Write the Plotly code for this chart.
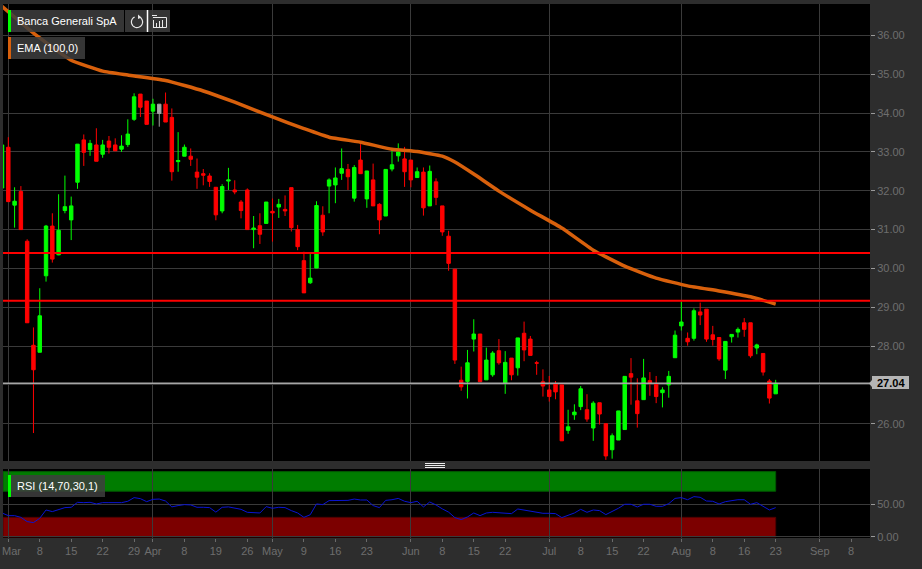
import math
import plotly.graph_objects as go

W, H = 922, 569
PL, PR, PT, PB = 3, 870, 4, 538

positions = list(range(-1, 123))
opens = [32.07, 33.12, 31.63, 31.98, 30.70, 28.02, 27.84, 29.81, 31.09, 30.35, 31.49, 31.25, 32.22, 33.31, 33.06, 33.18,
         32.94, 33.28, 33.18, 33.07, 33.19, 33.84, 34.49, 34.31, 34.05, 34.23, 34.23, 33.89, 32.75, 32.89, 32.89, 32.48,
         32.44, 32.38, 32.09, 31.48, 32.25, 32.02, 31.71, 32.02, 31.00, 31.10, 31.16, 31.47, 31.58, 31.52, 32.08, 31.00,
         30.20, 29.63, 30.01, 31.37, 32.12, 32.15, 32.45, 32.55, 31.81, 32.79, 31.79, 32.28, 31.65, 31.35, 32.56, 32.90,
         32.82, 32.79, 32.34, 32.48, 31.61, 32.23, 31.61, 30.83, 29.98, 27.12, 27.09, 28.18, 28.31, 27.13, 27.26, 27.88,
         27.04, 27.69, 27.44, 28.33, 28.18, 27.57, 27.08, 26.87, 27.03, 27.00, 25.83, 26.23, 26.44, 26.36, 25.89, 26.54,
         26.00, 25.33, 25.58, 25.85, 27.29, 26.59, 26.62, 27.11, 27.02, 26.80, 27.00, 27.70, 28.52, 28.20, 28.20, 28.88,
         28.95, 28.29, 28.22, 27.38, 28.24, 28.36, 28.60, 28.60, 27.95, 27.81, 27.10, 26.77]
closes = [33.18, 31.72, 31.73, 31.00, 28.60, 27.39, 28.78, 31.09, 30.24, 30.98, 31.59, 31.61, 33.20, 32.99, 33.22, 32.76,
          33.18, 33.12, 33.03, 33.15, 33.46, 34.42, 34.15, 33.71, 34.23, 33.99, 33.77, 32.49, 32.78, 33.12, 32.81, 32.35,
          32.40, 32.24, 31.38, 32.11, 32.28, 31.97, 31.49, 31.00, 31.04, 30.88, 31.71, 31.43, 31.65, 31.48, 31.05, 30.56,
          29.37, 29.75, 31.62, 30.94, 32.28, 32.33, 32.57, 32.36, 32.60, 32.44, 32.51, 31.61, 31.25, 32.55, 32.67, 33.00,
          32.49, 32.28, 32.49, 31.56, 32.50, 31.83, 30.94, 30.13, 27.64, 26.95, 27.57, 28.31, 27.08, 27.64, 27.82, 27.57,
          27.58, 27.26, 28.21, 27.90, 27.76, 27.56, 26.97, 26.70, 26.82, 25.56, 25.92, 26.30, 26.90, 26.12, 26.53, 26.25,
          25.17, 25.69, 26.33, 27.22, 27.20, 26.26, 27.18, 27.04, 26.70, 26.87, 27.22, 28.28, 28.62, 28.11, 28.91, 28.80,
          28.18, 28.17, 27.67, 28.12, 28.30, 28.43, 28.43, 27.75, 28.03, 27.33, 26.66, 27.04]
highs = [33.18, 33.38, 32.09, 32.12, 30.75, 28.48, 29.49, 31.12, 31.42, 31.91, 32.39, 31.85, 33.20, 33.45, 33.31, 33.61,
         33.31, 33.41, 33.35, 33.43, 33.84, 34.51, 34.49, 34.31, 34.37, 34.23, 34.53, 34.12, 33.51, 33.19, 33.09, 32.83,
         32.56, 32.45, 32.09, 32.17, 32.59, 32.27, 31.76, 32.06, 31.35, 31.42, 31.71, 31.80, 31.79, 31.88, 32.08, 31.12,
         30.43, 30.37, 31.73, 31.60, 32.32, 32.60, 33.09, 32.69, 32.66, 33.20, 32.51, 32.70, 31.68, 32.55, 33.05, 33.22,
         33.13, 32.79, 32.60, 32.60, 32.65, 32.32, 31.61, 30.97, 29.98, 27.47, 27.90, 28.69, 28.31, 27.96, 27.87, 28.18,
         27.87, 27.69, 28.21, 28.63, 28.26, 27.62, 27.40, 27.23, 27.10, 27.00, 26.36, 26.50, 26.97, 26.76, 26.58, 26.54,
         26.00, 25.75, 26.33, 27.22, 27.69, 27.17, 27.67, 27.33, 27.23, 26.94, 27.36, 28.40, 29.14, 28.35, 28.97, 29.12,
         28.95, 28.52, 28.22, 28.12, 28.30, 28.48, 28.72, 28.60, 28.06, 27.81, 27.15, 27.13]
lows = [32.07, 31.72, 31.05, 30.99, 28.60, 25.76, 27.84, 29.66, 30.15, 30.34, 31.42, 30.73, 32.05, 32.64, 32.90, 32.76,
        32.85, 32.96, 33.03, 33.00, 33.13, 33.80, 33.90, 33.71, 33.68, 33.65, 33.77, 32.26, 32.49, 32.89, 32.64, 32.05,
        32.14, 32.10, 31.24, 31.42, 32.02, 31.91, 31.29, 31.00, 30.52, 30.63, 31.16, 30.69, 31.30, 31.35, 30.95, 30.47,
        29.37, 29.60, 30.01, 30.84, 31.42, 31.68, 32.28, 32.02, 31.72, 32.44, 31.56, 31.61, 30.88, 31.35, 32.50, 32.75,
        32.10, 32.09, 32.34, 31.36, 31.61, 31.63, 30.84, 29.94, 27.54, 26.85, 26.65, 27.86, 27.07, 27.13, 27.21, 27.52,
        26.77, 27.12, 27.24, 27.61, 27.76, 27.26, 26.70, 26.57, 26.63, 25.56, 25.74, 26.10, 26.35, 26.05, 25.56, 25.98,
        25.07, 25.10, 25.58, 25.85, 26.49, 25.90, 26.62, 26.72, 26.53, 26.42, 26.67, 27.70, 28.40, 28.01, 28.14, 28.54,
        28.11, 28.01, 27.62, 27.15, 28.09, 28.22, 28.24, 27.70, 27.79, 27.24, 26.52, 26.77]
unchanged_positions = [24]

ema_positions = [-1, 4, 10, 15, 19, 25, 31, 36, 42, 47, 51, 56, 61, 65, 69, 71, 74, 78, 83, 88, 93, 98, 103, 108, 113, 118, 122]
ema_values = [36.75, 36.06, 35.36, 35.08, 34.98, 34.84, 34.57, 34.28, 33.90, 33.60, 33.38, 33.25, 33.07, 33.01, 32.89,
              32.74, 32.43, 31.99, 31.50, 31.04, 30.47, 30.06, 29.75, 29.55, 29.42, 29.27, 29.08]

rsi_values = [36.7, 32.6, 32.6, 30.0, 23.5, 22.0, 28.6, 41.3, 38.8, 42.3, 44.9, 45.4, 53.0, 52.5, 53.0, 50.5, 52.5, 52.5,
              52.0, 52.5, 54.6, 60.2, 58.6, 54.0, 57.6, 58.0, 55.0, 46.0, 48.0, 49.5, 49.0, 45.4, 45.4, 44.9, 38.0, 45.4,
              46.0, 44.4, 42.3, 37.7, 37.7, 36.7, 46.4, 43.9, 45.4, 44.9, 40.3, 36.7, 30.0, 34.0, 50.5, 49.5, 55.6, 56.0,
              56.6, 56.0, 58.0, 56.6, 56.6, 48.0, 44.9, 56.0, 57.0, 59.0, 54.6, 52.5, 54.6, 46.0, 53.5, 49.0, 43.0, 38.0,
              29.6, 26.5, 30.6, 36.7, 32.6, 36.7, 37.7, 36.7, 36.7, 35.7, 42.8, 41.3, 40.3, 38.8, 36.2, 36.2, 35.7, 29.6,
              33.2, 36.7, 42.3, 37.7, 41.3, 40.3, 34.2, 38.8, 43.9, 50.0, 50.0, 45.9, 50.0, 50.0, 46.9, 46.9, 51.0, 59.0,
              60.2, 57.0, 61.7, 60.7, 55.0, 54.6, 50.5, 54.0, 56.0, 57.0, 57.0, 50.0, 52.5, 46.4, 41.3, 44.9]

resistance_levels = [30.40, 29.17]
last_price = 27.04
last_label = "27.04"
rsi_upper, rsi_lower, rsi_max = 70, 30, 100

first_label = "Mar"
tick_positions = [0, 5, 10, 15, 20, 23, 28, 33, 38, 42, 47, 52, 57, 64, 69, 74, 79, 86, 91, 96, 101, 107, 112, 117, 122, 129, 134]
tick_labels = ["", "8", "15", "22", "29", "Apr", "8", "19", "26", "May", "9", "16", "23", "Jun", "8", "15",
               "22", "Jul", "8", "15", "22", "Aug", "8", "16", "23", "Sep", "8"]
month_positions = [0, 23, 42, 64, 86, 107, 129]
price_ticks = [26, 27, 28, 29, 30, 31, 32, 33, 34, 35, 36]
rsi_ticks = [0, 50]

BG = "#2d2d2d"
GRID = "#3a3a3a"
TICKTXT = "#6e6e6e"
GREEN = "#00ff00"
RED = "#ff0000"
ORANGE = "#d8600c"
FONT = "Liberation Sans, Arial, sans-serif"


def px(x):
    return (x - PL) / (PR - PL)


def py(y):
    return (PB - y) / (PB - PT)


keep = [i for i, p in enumerate(positions) if p not in unchanged_positions]
gray = [i for i, p in enumerate(positions) if p in unchanged_positions]

fig = go.Figure()
fig.add_trace(go.Candlestick(
    x=[positions[i] for i in keep],
    open=[opens[i] for i in keep], high=[highs[i] for i in keep],
    low=[lows[i] for i in keep], close=[closes[i] for i in keep],
    increasing=dict(line=dict(color=GREEN, width=1), fillcolor=GREEN),
    decreasing=dict(line=dict(color=RED, width=1), fillcolor=RED),
    whiskerwidth=0, xaxis="x", yaxis="y", showlegend=False))
fig.add_trace(go.Candlestick(
    x=unchanged_positions,
    open=[opens[i] for i in gray], high=[highs[i] for i in gray],
    low=[lows[i] for i in gray], close=[closes[i] for i in gray],
    increasing=dict(line=dict(color="#a0a0a0", width=1), fillcolor="#a8a8a8"),
    decreasing=dict(line=dict(color="#a0a0a0", width=1), fillcolor="#a8a8a8"),
    whiskerwidth=0, xaxis="x", yaxis="y", showlegend=False))
fig.add_trace(go.Scatter(x=ema_positions, y=ema_values, mode="lines", xaxis="x", yaxis="y",
                         line=dict(color=ORANGE, width=3.5, shape="spline", smoothing=0.4), showlegend=False))
fig.add_trace(go.Scatter(x=positions, y=rsi_values, mode="lines", xaxis="x2", yaxis="y2",
                         line=dict(color="#0a14d2", width=1), showlegend=False))

x_range = [(PL - 8.3) / 6.29, (PR - 8.3) / 6.29]

fig.update_layout(
    width=W, height=H, autosize=False,
    margin=dict(l=PL, r=W - PR, t=PT, b=H - PB, pad=0),
    paper_bgcolor=BG, plot_bgcolor="#000000",
    font=dict(family=FONT, size=11, color=TICKTXT),
    showlegend=False, hovermode=False, boxgap=0.22,
    xaxis=dict(domain=[0, 1], range=x_range, anchor="y", matches="x2", rangeslider=dict(visible=False),
               tickmode="array", tickvals=month_positions, showticklabels=False, ticks="",
               showgrid=True, gridcolor=GRID, gridwidth=1, zeroline=False, showline=False),
    yaxis=dict(domain=[(PB - 461) / (PB - PT), 1], range=[25.04, 36.81], side="right", anchor="x",
               tickmode="array", tickvals=price_ticks, ticktext=[f"{v:.2f}" for v in price_ticks],
               ticks="outside", ticklen=4, tickcolor="#9a9a9a", tickwidth=1,
               showgrid=True, gridcolor=GRID, gridwidth=1, zeroline=False, showline=False),
    xaxis2=dict(domain=[0, 1], range=x_range, anchor="y2",
                tickmode="array", tickvals=tick_positions, ticktext=tick_labels, tickangle=0,
                ticks="outside", ticklen=3, tickcolor="#6a6a6a", tickwidth=1,
                showgrid=False, zeroline=False, showline=False,
                minor=dict(tickmode="array", tickvals=month_positions, showgrid=True, gridcolor=GRID, gridwidth=1, ticks="")),
    yaxis2=dict(domain=[0, (PB - 469) / (PB - PT)], range=[-1.6, 104], side="right", anchor="x2",
                tickmode="array", tickvals=rsi_ticks, ticktext=[f"{v:.2f}" for v in rsi_ticks],
                ticks="outside", ticklen=4, tickcolor="#9a9a9a", tickwidth=1,
                showgrid=True, gridcolor=GRID, gridwidth=1, zeroline=False, showline=False),
)

shapes = []
last_pos = positions[-1]
shapes.append(dict(type="rect", xref="x2", yref="y2", x0=x_range[0], x1=last_pos, y0=rsi_upper, y1=rsi_max,
                   fillcolor="rgba(0,128,0,0.97)", line=dict(color="#005800", width=1), layer="below"))
shapes.append(dict(type="rect", xref="x2", yref="y2", x0=x_range[0], x1=last_pos, y0=0, y1=rsi_lower,
                   fillcolor="rgba(128,0,0,0.97)", line=dict(color="#500000", width=1), layer="below"))
for lv in resistance_levels:
    shapes.append(dict(type="line", xref="paper", yref="y", x0=0, x1=1, y0=lv, y1=lv,
                       line=dict(color="#ff0000", width=2), layer="above"))
shapes.append(dict(type="line", xref="paper", yref="y", x0=0, x1=1, y0=last_price, y1=last_price,
                   line=dict(color="#a6a6a6", width=1.5), layer="above"))


def box(x0, x1, y0, y1, color):
    shapes.append(dict(type="rect", xref="paper", yref="paper", x0=px(x0), x1=px(x1), y0=py(y1), y1=py(y0),
                       fillcolor=color, line=dict(width=0), layer="above"))


def seg(x0, y0, x1, y1, color="#ffffff", width=1):
    shapes.append(dict(type="line", xref="paper", yref="paper", x0=px(x0), x1=px(x1), y0=py(y0), y1=py(y1),
                       line=dict(color=color, width=width), layer="above"))


LABEL = "rgba(62,62,62,0.85)"
box(8, 124, 10, 32, LABEL)
box(8, 11, 10, 32, GREEN)
box(125, 170, 10, 32, LABEL)
seg(147.5, 10, 147.5, 32, "#ffffff", 1.5)
box(8, 85, 37, 59, LABEL)
box(8, 11, 37, 59, ORANGE)
box(8, 105, 475, 497, LABEL)
box(8, 11, 475, 497, GREEN)

# refresh icon: thin open arc with a small arrow head
cx, cy, r = 137, 22, 5.6
arc = [(cx + r * math.cos(math.radians(a)), cy + r * math.sin(math.radians(a))) for a in range(-55, 250, 15)]
shapes.append(dict(type="path", xref="paper", yref="paper",
                   path="M " + " L ".join(f"{px(a)} {py(b)}" for a, b in arc),
                   line=dict(color="#e8e8e8", width=1.2), layer="above"))
shapes.append(dict(type="path", xref="paper", yref="paper",
                   path=f"M {px(138)} {py(14.5)} L {px(141.5)} {py(17.5)} L {px(138)} {py(19)} Z",
                   fillcolor="#e8e8e8", line=dict(width=0), layer="above"))

# table icon
for x0, y0, x1, y1 in [(153, 17.5, 166.5, 17.5), (166.5, 17.5, 166.5, 27.5), (153, 27.5, 166.5, 27.5), (153.5, 20, 153.5, 27.5),
                       (156.5, 23, 156.5, 27), (159.5, 21, 159.5, 27), (162.5, 20, 162.5, 27), (152, 15.5, 157, 15.5)]:
    seg(x0, y0, x1, y1, "#e8e8e8", 1)

# pane resize grip
for gy in (463.5, 465.5, 467.5):
    seg(425, gy, 445, gy, "#ececec", 1)

# last price flag
box(872, 909, 376, 389, "#b5b5b5")
shapes.append(dict(type="path", xref="paper", yref="paper",
                   path=f"M {px(869)} {py(383.5)} L {px(872)} {py(380)} L {px(872)} {py(387)} Z",
                   fillcolor="#b5b5b5", line=dict(width=0), layer="above"))
fig.update_layout(shapes=shapes)


def text(x, y, s, color="#ffffff", size=11, anchor="left", family=FONT):
    return dict(xref="paper", yref="paper", x=px(x), y=py(y), text=s, showarrow=False, borderpad=0, borderwidth=0,
                xanchor=anchor, yanchor="middle", font=dict(color=color, size=size, family=family), align="left")


fig.update_layout(annotations=[
    text(17, 21, "Banca Generali SpA"),
    text(17, 48, "EMA (100,0)"),
    text(17, 486, "RSI (14,70,30,1)"),
    text(890.5, 383, f"<b>{last_label}</b>", color="#000000", size=11, anchor="center"),
    text(2, 551, first_label, color=TICKTXT, size=11),
])

fig.write_html("out.html", config=dict(displayModeBar=False), post_script="document.body.style.margin='0';")
